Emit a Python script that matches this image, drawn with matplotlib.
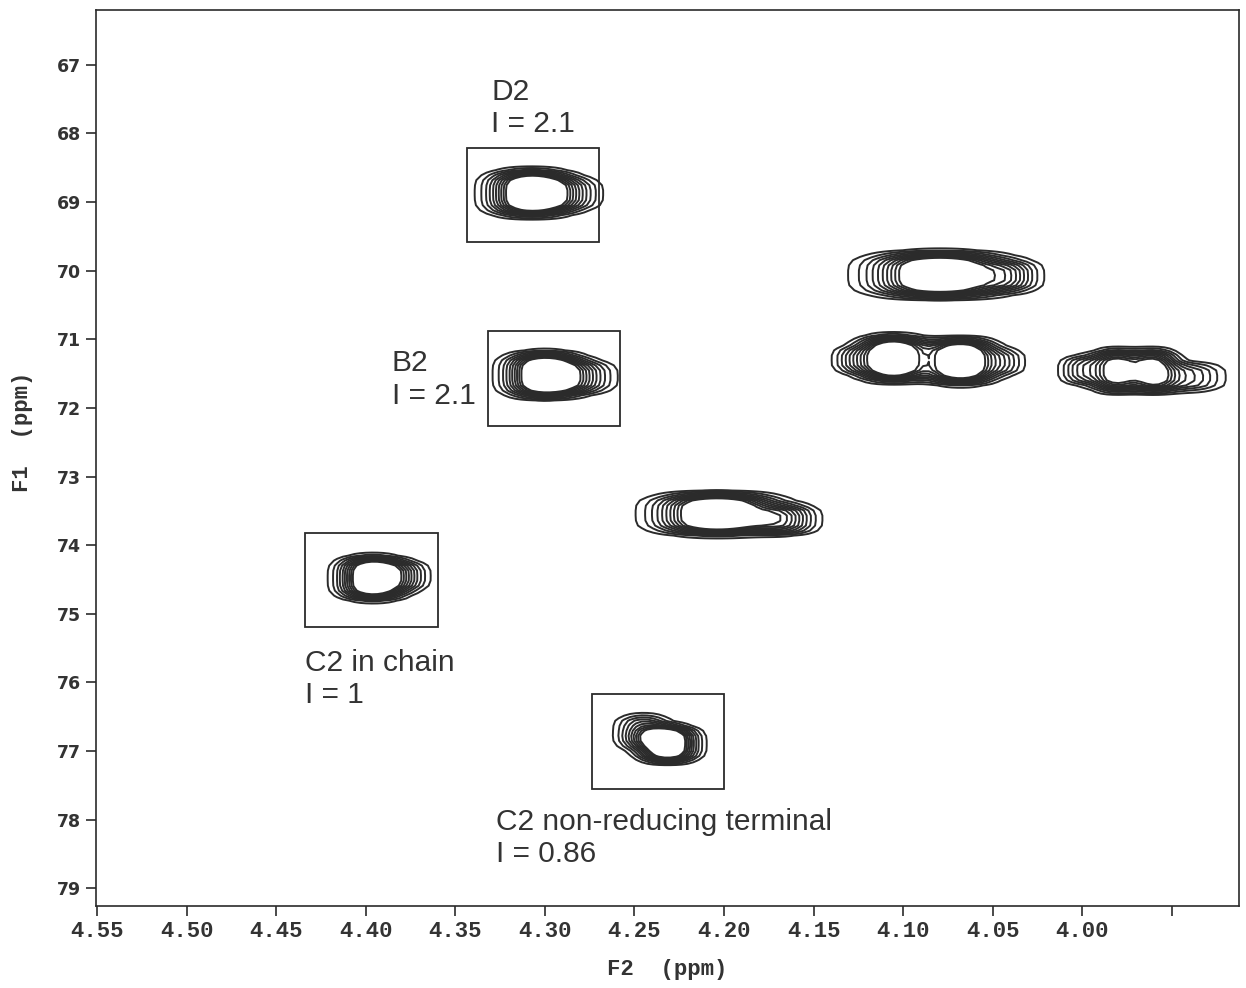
import matplotlib
matplotlib.use("Agg")
import matplotlib.pyplot as plt
from matplotlib.patches import Rectangle
import numpy as np

# cross peaks: centre (F2, F1), widths and height of each component
peak_f2 = [4.3075, 4.2880, 4.3000, 4.2800, 4.3960, 4.3790, 4.2315, 4.2450,
           4.2038, 4.1665, 4.0795, 4.0410, 4.1057, 4.0678, 4.1275, 4.0440,
           3.9814, 3.9603, 4.0000, 3.9400]
peak_f1 = [68.87, 68.88, 71.52, 71.55, 74.48, 74.45, 76.90, 76.72,
           73.545, 73.63, 70.06, 70.08, 71.28, 71.32, 71.30, 71.33,
           71.46, 71.46, 71.45, 71.55]
peak_w2 = [0.0139, 0.012, 0.0128, 0.012, 0.011, 0.009, 0.0095, 0.0095,
           0.0200, 0.011, 0.0225, 0.010, 0.0117, 0.0117, 0.008, 0.008,
           0.0085, 0.0085, 0.008, 0.012]
peak_w1 = [0.30, 0.22, 0.295, 0.22, 0.282, 0.20, 0.236, 0.24,
           0.271, 0.20, 0.295, 0.20, 0.295, 0.295, 0.18, 0.18,
           0.282, 0.282, 0.20, 0.20]
peak_amp = [1.0, 0.25, 1.0, 0.3, 1.0, 0.25, 1.0, 0.35,
            1.0, 0.4, 1.0, 0.28, 1.0, 1.0, 0.2, 0.2,
            0.68, 0.68, 0.3, 0.3]

# integration boxes (F2 left, F2 right, F1 top, F1 bottom)
box_f2a = [4.3432, 4.3315, 4.4341, 4.2735]
box_f2b = [4.2696, 4.2579, 4.3599, 4.2000]
box_f1a = [68.21, 70.88, 73.82, 76.17]
box_f1b = [69.58, 72.26, 75.19, 77.55]

labels = ["D2\nI = 2.1", "B2\nI = 2.1", "C2 in chain\nI = 1",
          "C2 non-reducing terminal\nI = 0.86"]
label_f2 = [4.3298, 4.3856, 4.4341, 4.3270]
label_f1 = [67.98, 71.94, 76.30, 78.62]  # baseline of the last line

xticks = [4.55, 4.50, 4.45, 4.40, 4.35, 4.30, 4.25, 4.20, 4.15, 4.10, 4.05, 4.00, 3.95]
xtick_labels = ["4.55", "4.50", "4.45", "4.40", "4.35", "4.30", "4.25", "4.20",
                "4.15", "4.10", "4.05", "4.00", ""]
yticks = list(range(67, 80))

X_LIM = (4.5506, 3.9125)
Y_LIM = (79.26, 66.20)
INK = "#2b2b2b"

fig = plt.figure(figsize=(12.46, 9.88), dpi=100)
ax = fig.add_axes([0.077, 0.083, 0.9174, 0.9069])

f2 = np.linspace(X_LIM[1], X_LIM[0], 200)
f1 = np.linspace(Y_LIM[1], Y_LIM[0], 180)
F2, F1 = np.meshgrid(f2, f1)
Z = np.zeros_like(F2)
for x0, y0, wx, wy, a in zip(peak_f2, peak_f1, peak_w2, peak_w1, peak_amp):
    u = (F2 - x0) / wx
    v = np.abs(F1 - y0) / wy
    Z += a * np.exp(-0.5 * u ** 2 - v ** 4)

levels = np.linspace(0.075, 0.6, 10)
ax.contour(F2, F1, Z, levels=levels, colors=INK, linewidths=1.4)

for xa, xb, ya, yb in zip(box_f2a, box_f2b, box_f1a, box_f1b):
    ax.add_patch(Rectangle((xb, ya), xa - xb, yb - ya, fill=False,
                           edgecolor=INK, linewidth=1.3))

for txt, x, y in zip(labels, label_f2, label_f1):
    ax.text(x, y, txt, fontsize=21.5, family="Liberation Sans", color="#333333",
            ha="left", va="baseline")

ax.set_xlim(*X_LIM)
ax.set_ylim(*Y_LIM)
ax.set_xticks(xticks)
ax.set_xticklabels(xtick_labels, family="Liberation Mono", weight="bold",
                   fontsize=16, color="#333333")
ax.set_yticks(yticks)
ax.set_yticklabels([str(t) for t in yticks], family="DejaVu Sans",
                   weight="bold", fontsize=12.5, color="#333333")
ax.tick_params(direction="out", length=7, width=1.2, color=INK, pad=4)
for s in ax.spines.values():
    s.set_color(INK)
    s.set_linewidth(1.2)

ax.set_xlabel("F2  (ppm)", family="Liberation Mono", weight="bold",
              fontsize=16, color="#333333", labelpad=12)
ax.set_ylabel("F1  (ppm)", family="Liberation Mono", weight="bold",
              fontsize=16, color="#333333")
ax.yaxis.set_label_coords(-0.055, 0.529)

fig.savefig("out.png", dpi=100)
